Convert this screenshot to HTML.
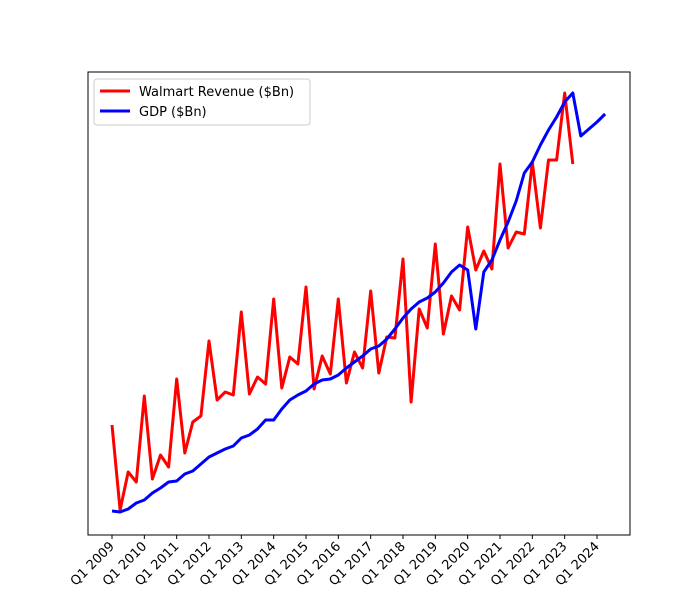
<!DOCTYPE html>
<html><head><meta charset="utf-8"><style>
body{margin:0;background:#fff;}
svg text{font-family:"DejaVu Sans","Liberation Sans",sans-serif;font-size:13px;}
</style></head><body>
<svg id="chart" width="700" height="600"></svg>
<script>
const quarters = [];
for (let y = 2009; y <= 2024; y++) for (let q = 1; q <= 4; q++) quarters.push('Q' + q + ' ' + y);
const tickLabels = ['Q1 2009','Q1 2010','Q1 2011','Q1 2012','Q1 2013','Q1 2014','Q1 2015','Q1 2016','Q1 2017','Q1 2018','Q1 2019','Q1 2020','Q1 2021','Q1 2022','Q1 2023','Q1 2024'];
const walmart = [110,25,63,53,139,56,80,68,156,82,113,119,194,135,143,140,223,141,158,151,236,147,178,171,248,146,179,161,236,152,183,167,244,162,198,197,276,133,226,207,291,201,239,225,308,265,284,266,371,287,303,301,373,307,375,375,442,371];
const gdp = [24,23,26,32,35,42,47,53,54,61,64,71,78,82,86,89,97,100,106,115,115,126,135,140,144,151,155,156,160,167,173,179,186,189,196,206,217,226,233,237,243,252,263,270,265,206,263,275,295,313,334,362,373,390,405,418,433,442,399,406,413,421];

const NS = 'http://www.w3.org/2000/svg';
const svg = document.getElementById('chart');
const L = 88, R = 630, T = 72, B = 535;
const x0 = 112, qStep = (597 - 112) / 60;
function xScale(i){ return x0 + i * qStep; }
function yScale(v){ return B - v * (B - T) / 463; }
function mk(tag, attrs){ const e = document.createElementNS(NS, tag); for (const k in attrs) e.setAttribute(k, attrs[k]); svg.appendChild(e); return e; }

const frame = mk('rect', {x:L, y:T, width:R-L, height:B-T, fill:'none', stroke:'#000', 'stroke-width':1});



tickLabels.forEach(lbl => {
  const i = quarters.indexOf(lbl);
  const x = xScale(i);
  const t = mk('line', {x1:x, x2:x, y1:B, y2:B+4, stroke:'#000', 'stroke-width':1});
  
  
  const tx = mk('text', {x:x+3, y:B+12, 'text-anchor':'end', transform:'rotate(-45 '+(x+3)+' '+(B+12)+')'});
  tx.textContent = lbl;
  
  
});

function line(vals, color, name){
  const pts = vals.map((v,i) => xScale(i).toFixed(1) + ',' + yScale(v).toFixed(1)).join(' ');
  const p = mk('polyline', {points:pts, fill:'none', stroke:color, 'stroke-width':3, 'stroke-linejoin':'round'});
  
  
}
line(walmart, '#ff0000', 'walmart-revenue-line');
line(gdp, '#0000ff', 'gdp-line');

const lg = mk('rect', {x:94, y:79, width:216, height:46, rx:3, fill:'#fff', 'fill-opacity':0.8, stroke:'#ccc'});


[['Walmart Revenue ($Bn)','#ff0000',91],['GDP ($Bn)','#0000ff',111]].forEach(([n,c,y]) => {
  const l = mk('line', {x1:100, x2:130, y1:y, y2:y, stroke:c, 'stroke-width':3});
  
  
  const t = mk('text', {x:139, y:y+5});
  t.textContent = n;
  
  
});
</script>
</body></html>
